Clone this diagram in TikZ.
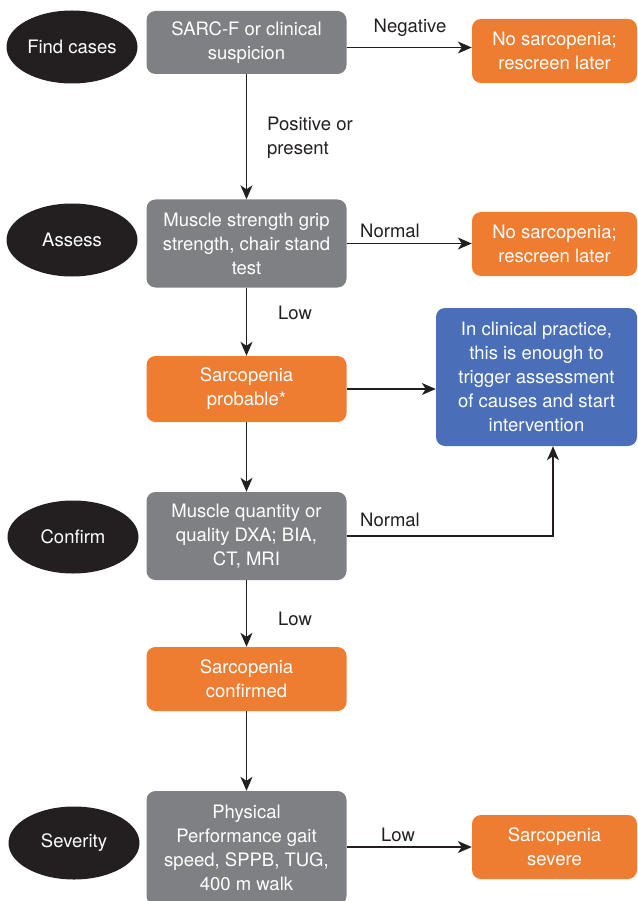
\documentclass[tikz,border=0pt]{standalone}
\usepackage{fontspec}
\setmainfont{TeX Gyre Heros}
\usepackage{xcolor}
\usepackage{tikz}
\usetikzlibrary{shapes.geometric}
\usetikzlibrary{arrows.meta}
\definecolor{stepgray}{HTML}{7F8083}
\definecolor{steporange}{HTML}{EE7D31}
\definecolor{stepblue}{HTML}{4A6EB7}
\definecolor{inkblack}{HTML}{231F20}

\begin{document}
\begin{tikzpicture}[x=1pt,y=-1pt,
        font=\fontsize{18.5}{24}\selectfont,
        stage/.style={ellipse,fill=inkblack,text=white,minimum width=131pt,minimum height=73pt,inner sep=0pt},
        box/.style={rounded corners=9pt,text=white,align=center,inner sep=0pt,minimum width=200pt},
        graybox/.style={box,fill=stepgray},
        orangebox/.style={box,fill=steporange},
        sidebox/.style={box,fill=steporange,minimum width=165pt,minimum height=64pt},
        bluebox/.style={box,fill=stepblue,minimum width=201pt,minimum height=138pt},
        arr/.style={line width=1.4pt,draw=inkblack,-{Stealth[length=14pt,width=12pt,inset=4pt]}},
        lbl/.style={text=inkblack,inner sep=0pt}]
        \useasboundingbox (0,0) rectangle (637,901);

        %%% STAGES %%%
        \node[stage] (findcases) at (72,47) {Find cases};
        \node[stage] (assess) at (72,240) {Assess};
        \node[stage] (confirm) at (73,537) {Confirm};
        \node[stage] (severity) at (74,843) {Severity};

        %%% MAIN COLUMN %%%
        \node[graybox,minimum height=63pt] (sarcf) at (246.5,42.5) {SARC-F or clinical\\suspicion};
        \node[graybox,minimum height=88pt] (strength) at (246.5,243.5) {Muscle strength grip\\strength, chair stand\\test};
        \node[orangebox,minimum height=66pt] (probable) at (246.5,389) {Sarcopenia\\probable*};
        \node[graybox,minimum height=88pt] (quantity) at (246.5,536) {Muscle quantity or\\quality DXA; BIA,\\CT, MRI};
        \node[orangebox,minimum height=64pt] (confirmed) at (246.5,679) {Sarcopenia\\confirmed};
        \node[graybox,minimum height=114pt] (performance) at (246.5,848) {Physical\\Performance gait\\speed, SPPB, TUG,\\400 m walk};

        %%% SIDE COLUMN %%%
        \node[sidebox] (rescreenA) at (554.5,51) {No sarcopenia;\\rescreen later};
        \node[sidebox] (rescreenB) at (554.5,244) {No sarcopenia;\\rescreen later};
        \node[bluebox] (practice) at (536.5,377) {In clinical practice,\\this is enough to\\trigger assessment\\of causes and start\\intervention};
        \node[sidebox] (severe) at (554.5,847) {Sarcopenia\\severe};

        %%% CONNECTORS %%%
        \draw[arr] (sarcf.south) -- (strength.north);
        \draw[arr] (strength.south) -- (probable.north);
        \draw[arr] (probable.south) -- (quantity.north);
        \draw[arr] (quantity.south) -- (confirmed.north);
        \draw[arr] (confirmed.south) -- (performance.north);

        \draw[arr] ([yshift=-5pt]sarcf.east) -- ([yshift=-5pt]sarcf.east -| rescreenA.west);
        \draw[arr] (strength.east) -- (strength.east -| rescreenB.west);
        \draw[arr] (probable.east) -- (probable.east -| practice.west);
        \draw[arr] (quantity.east) -| ([xshift=16.5pt]practice.south);
        \draw[arr] (performance.east |- severe.west) -- (severe.west);

        %%% LABELS %%%
        \node[lbl] (negative) at (410,28) {Negative};
        \node[lbl,anchor=west,align=left] (positive) at (267,138) {Positive or\\present};
        \node[lbl] (normalA) at (390,231) {Normal};
        \node[lbl] (lowA) at (295,313) {Low};
        \node[lbl] (normalB) at (390,520) {Normal};
        \node[lbl] (lowB) at (295,619) {Low};
        \node[lbl] (lowC) at (398,835) {Low};
    \end{tikzpicture}
\end{document}
